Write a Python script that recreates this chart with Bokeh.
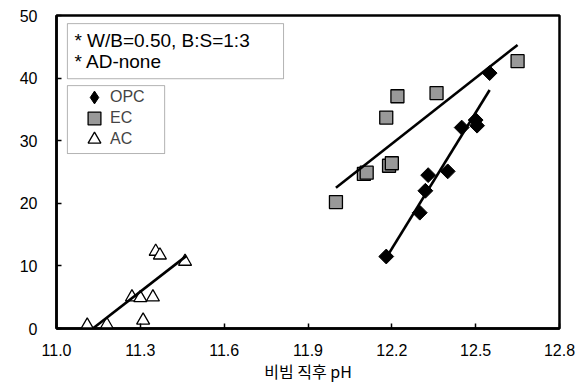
import math
from bokeh.plotting import figure
from bokeh.models import (Range1d, FixedTicker, PrintfTickFormatter, Label,
                          BoxAnnotation, Legend, LegendItem)
from bokeh.embed import file_html
from bokeh.resources import INLINE

# ---- data ----
x_ticks = [11.0, 11.3, 11.6, 11.9, 12.2, 12.5, 12.8]
y_ticks = [0, 10, 20, 30, 40, 50]

opc_x = [12.18, 12.30, 12.32, 12.33, 12.40, 12.45, 12.50, 12.505, 12.55]
opc_y = [11.5, 18.5, 22.0, 24.5, 25.1, 32.1, 33.3, 32.4, 40.8]

ec_x = [12.00, 12.10, 12.11, 12.18, 12.19, 12.20, 12.22, 12.36, 12.65]
ec_y = [20.2, 24.7, 24.9, 33.7, 26.0, 26.4, 37.1, 37.6, 42.7]

ac_x = [11.11, 11.18, 11.27, 11.30, 11.31, 11.345, 11.355, 11.37, 11.46]
ac_y = [0.5, 0.6, 5.0, 4.9, 1.3, 5.0, 12.3, 11.7, 10.7]

opc_fit_x = [12.18, 12.55]
opc_fit_y = [11.3, 38.1]
ec_fit_x = [12.00, 12.65]
ec_fit_y = [22.5, 45.3]
ac_fit_x = [11.13, 11.465]
ac_fit_y = [0.0, 11.6]

series_labels = ["OPC", "EC", "AC"]
note_lines = ["* W/B=0.50, B:S=1:3", "* AD-none"]
x_title = "비빔 직후 pH"

FONT = "Liberation Sans"

p = figure(width=587, height=386, output_backend="svg", toolbar_location=None,
           x_range=Range1d(11.0, 12.8), y_range=Range1d(0, 50),
           min_border_left=56, min_border_right=28, min_border_top=15,
           min_border_bottom=58)
p.grid.visible = False
p.background_fill_color = "white"
p.border_fill_color = "white"
p.outline_line_color = "black"
p.outline_line_width = 2.5

for ax in p.axis:
    ax.axis_line_width = 2.5
    ax.axis_line_color = "black"
    ax.major_tick_in = 5
    ax.major_tick_out = 0
    ax.major_tick_line_width = 1.5
    ax.minor_tick_line_color = None
    ax.major_label_text_font = FONT
    ax.major_label_text_font_size = "16px"
    ax.major_label_text_color = "black"

p.xaxis.ticker = FixedTicker(ticks=x_ticks)
p.xaxis.formatter = PrintfTickFormatter(format="%.1f")
p.xaxis.major_label_standoff = 15
p.xaxis.axis_label = x_title
p.xaxis.axis_label_text_font = "Noto Sans CJK KR"
p.xaxis.axis_label_text_font_size = "16px"
p.xaxis.axis_label_text_font_style = "normal"
p.xaxis.axis_label_text_color = "black"
p.xaxis.axis_label_standoff = 0
p.yaxis.ticker = FixedTicker(ticks=y_ticks)
p.yaxis.major_label_standoff = 19

# markers
r_ec = p.scatter(ec_x, ec_y, marker="square", size=13, fill_color="#999999",
                 line_color="black", line_width=1.3)
r_opc = p.scatter(opc_x, opc_y, marker="square", angle=math.pi / 4, size=10.5,
                  fill_color="black", line_color="black", line_width=1)
r_ac = p.scatter(ac_x, ac_y, marker="triangle", size=13, fill_color="white",
                 line_color="black", line_width=1.3)
# hidden twin of the OPC series, used only as the legend key (legend ignores angle)
r_opc_key = p.scatter(opc_x, opc_y, marker="diamond", fill_color="black",
                      line_color="black", visible=False)

# trend lines
for fx, fy in [(opc_fit_x, opc_fit_y), (ec_fit_x, ec_fit_y), (ac_fit_x, ac_fit_y)]:
    p.line(fx, fy, line_width=2.6, line_color="black")

# legend: one row per Legend so the rows can sit close together
row_renderers = [r_opc_key, r_ec, r_ac]
row_bottoms = [215, 194, 173]
for lab, rr, vy in zip(series_labels, row_renderers, row_bottoms):
    lg = Legend(items=[LegendItem(label=lab, renderers=[rr])],
                location=(22, vy), glyph_width=32, glyph_height=32,
                label_height=32, spacing=0, label_standoff=0, padding=0,
                margin=0, border_line_alpha=0, background_fill_alpha=0,
                inactive_fill_alpha=0,
                label_text_font=FONT, label_text_font_size="16px")
    p.add_layout(lg)

p.add_layout(BoxAnnotation(left=11.039, right=11.387, bottom=27.95, top=38.8,
                           fill_alpha=0, line_color="black", line_width=1))
p.add_layout(BoxAnnotation(left=11.039, right=11.8125, bottom=39.9, top=48.7,
                           fill_alpha=0, line_color="black", line_width=1))

p.add_layout(Label(x=11.064, y=46.0, text=note_lines[0], text_baseline="middle",
                   text_font=FONT, text_font_size="19px", text_color="black"))
p.add_layout(Label(x=11.064, y=42.65, text=note_lines[1], text_baseline="middle",
                   text_font=FONT, text_font_size="19px", text_color="black"))

open("out.html", "w").write(file_html(p, INLINE))
